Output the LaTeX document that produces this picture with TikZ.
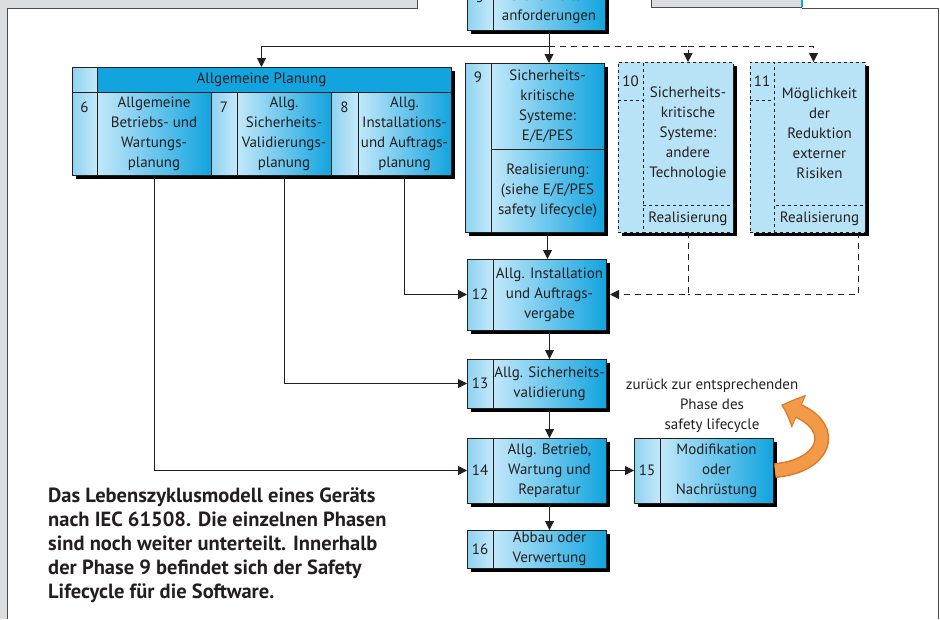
\documentclass[tikz,border=0pt]{standalone}
\usepackage{fontspec}
\setmainfont{PT Sans}
\usetikzlibrary{arrows.meta,shadows,bending}

\definecolor{cyandark}{HTML}{12A4DF}
\definecolor{cyanlight}{HTML}{C2E8FA}
\definecolor{numdark}{HTML}{8ED2F1}
\definecolor{numlight}{HTML}{C4E9FA}
\definecolor{palefill}{HTML}{B8E2F6}
\definecolor{palemid}{HTML}{DDF2FC}
\definecolor{framegray}{HTML}{DCDDDF}
\definecolor{frameline}{HTML}{4D4D4F}
\definecolor{arroworange}{HTML}{F39A48}
\definecolor{orangeedge}{HTML}{DB7A26}
\definecolor{inkblack}{HTML}{231F20}

\newcommand{\boxfont}{\fontsize{15}{20}\selectfont}
\newcommand{\captionfont}{\fontsize{20.5}{24}\selectfont\bfseries}

\tikzset{
  cell/.style={draw=inkblack, line width=1pt, anchor=north west, inner sep=0pt,
    outer sep=0pt, align=center, font=\boxfont, text=inkblack},
  numcell/.style={cell, left color=numdark, right color=numlight},
  txtcell/.style={cell, left color=cyanlight, right color=cyandark},
  palecell/.style={cell, dashed, left color=palefill, middle color=palemid, right color=palefill},
  boxshadow/.style={drop shadow={shadow xshift=4pt, shadow yshift=-4pt, opacity=1, fill=black}},
  dashline/.style={draw=inkblack, line width=1pt, dash pattern=on 6pt off 5pt},
  flow/.style={draw=inkblack, line width=1pt, -{Triangle[length=9pt,width=9pt]}},
  flowdash/.style={flow, dash pattern=on 6pt off 5pt},
}

\begin{document}
\begin{tikzpicture}[x=1pt,y=-1pt]
\useasboundingbox (0,0) rectangle (940,619);
\clip (0,0) rectangle (940,619);

% page frame
\fill[framegray] (0,0) rectangle (417,8);
\fill[framegray] (0,0) rectangle (7,619);
\fill[framegray] (651,0) rectangle (802,7);
\draw[frameline, line width=1pt] (417,0) -- (417,8) -- (7,8) -- (7,619);
\draw[frameline, line width=1pt] (651,0) -- (651,7) -- (802,7);
\draw[cyandark, line width=1.5pt] (802,0) -- (802,7);
\draw[frameline, line width=1pt] (802,8) -- (938,8) -- (938,619);

% phase 5
\node[numcell, boxshadow, minimum width=26, minimum height=46,
  label={[font=\boxfont, text=inkblack, anchor=north, inner sep=0pt, yshift=-8pt]north:5}] (n5) at (467,-16) {};
\node[txtcell, boxshadow, minimum width=112, minimum height=46] (b5) at (493,-16) {Sicherheits-\\anforderungen};

% general planning (6, 7, 8)
\node[cell, boxshadow, left color=cyandark, middle color=cyanlight, right color=cyandark,
  minimum width=379, minimum height=25] (plan) at (72,67) {Allgemeine Planung};
\node[numcell, minimum width=25, minimum height=25] (nplan) at (72,67) {};
\node[numcell, boxshadow, minimum width=25, minimum height=83,
  label={[font=\boxfont, text=inkblack, anchor=north, inner sep=0pt, yshift=-10pt]north:6}] (n6) at (72,92) {};
\node[txtcell, boxshadow, minimum width=114, minimum height=83] (b6) at (97,92) {Allgemeine\\Betriebs- und\\Wartungs-\\planung};
\node[numcell, boxshadow, minimum width=26, minimum height=83,
  label={[font=\boxfont, text=inkblack, anchor=north, inner sep=0pt, yshift=-10pt]north:7}] (n7) at (211,92) {};
\node[txtcell, boxshadow, minimum width=94, minimum height=83] (b7) at (237,92) {Allg.\\Sicherheits-\\Validierungs-\\planung};
\node[numcell, boxshadow, minimum width=27, minimum height=83,
  label={[font=\boxfont, text=inkblack, anchor=north, inner sep=0pt, yshift=-10pt]north:8}] (n8) at (331,92) {};
\node[txtcell, boxshadow, minimum width=93, minimum height=83] (b8) at (358,92) {Allg.\\Installations-\\und Auftrags-\\planung};

% phase 9
\node[numcell, boxshadow, minimum width=26, minimum height=169,
  label={[font=\boxfont, text=inkblack, anchor=north, inner sep=0pt, yshift=-9pt]north:9}] (n9) at (465,63) {};
\node[txtcell, boxshadow, minimum width=113, minimum height=86] (b9) at (491,63) {Sicherheits-\\kritische\\Systeme:\\E/E/PES};
\node[txtcell, boxshadow, minimum width=113, minimum height=83] (r9) at (491,149) {Realisierung:\\(siehe E/E/PES\\safety lifecycle)};

% phases 10 and 11 (dashed)
\node[palecell, boxshadow, minimum width=25, minimum height=170] (n10) at (618,62) {};
\node[cell, dashed, minimum width=25, minimum height=38] (t10) at (618,62) {10};
\node[palecell, boxshadow, minimum width=90, minimum height=143] (b10) at (643,62) {Sicherheits-\\kritische\\Systeme:\\andere\\Technologie};
\node[palecell, boxshadow, minimum width=90, minimum height=27] (r10) at (643,205) {Realisierung};

\node[palecell, boxshadow, minimum width=24, minimum height=170] (n11) at (750,62) {};
\node[cell, dashed, minimum width=24, minimum height=38] (t11) at (750,62) {11};
\node[palecell, boxshadow, minimum width=91, minimum height=143] (b11) at (774,62) {Möglichkeit\\der\\Reduktion\\externer\\Risiken};
\node[palecell, boxshadow, minimum width=91, minimum height=27] (r11) at (774,205) {Realisierung};

% phases 12 to 16
\node[numcell, boxshadow, minimum width=26, minimum height=71] (n12) at (467,259) {12};
\node[txtcell, boxshadow, minimum width=113, minimum height=71] (b12) at (493,259) {Allg. Installation\\und Auftrags-\\vergabe};
\node[numcell, boxshadow, minimum width=26, minimum height=49] (n13) at (467,359) {13};
\node[txtcell, boxshadow, minimum width=113, minimum height=49] (b13) at (493,359) {Allg. Sicherheits-\\validierung};
\node[numcell, boxshadow, minimum width=26, minimum height=65] (n14) at (467,438) {14};
\node[txtcell, boxshadow, minimum width=113, minimum height=65] (b14) at (493,438) {Allg. Betrieb,\\Wartung und\\Reparatur};
\node[numcell, boxshadow, minimum width=26, minimum height=65] (n15) at (634,438) {15};
\node[txtcell, boxshadow, minimum width=113, minimum height=65] (b15) at (660,438) {Modifikation\\oder\\Nachrüstung};
\node[numcell, boxshadow, minimum width=26, minimum height=38] (n16) at (467,530) {16};
\node[txtcell, boxshadow, minimum width=113, minimum height=38] (b16) at (493,530) {Abbau oder\\Verwertung};

% connectors
\coordinate (fork) at (b5.south |- 0,46);
\coordinate (fork10) at (b10.north |- fork);
\draw[inkblack, line width=1pt] (b5.south) -- (fork);
\draw[flow] (fork) -| (plan.north);
\draw[flow] (b5.south) -- (b5.south |- b9.north);
\draw[flowdash] (fork) -| (b10.north);
\draw[flowdash] (fork10) -| ([xshift=-6pt]b11.north);
\draw[flowdash] (r10.south) |- ([xshift=4pt]b12.east);
\draw[dashline] ([xshift=-7pt]r11.south east) |- (r10.south |- b12.east);
\draw[flow] (b8.south) |- (n12.west);
\draw[flow] (b7.south) |- (n13.west);
\draw[flow] (b6.south) |- (n14.west);
\draw[flow] (r9.south) -- (r9.south |- b12.north);
\draw[flow] (b12.south) -- (b13.north);
\draw[flow] (b13.south) -- (b14.north);
\draw[flow] (b14.south) -- (b16.north);
\draw[flow] ([xshift=4pt]b14.east) -- (n15.west);

% back to earlier phase
\draw[orangeedge, line width=15pt, -{Triangle[length=20pt,width=34pt,bend]}]
  ([xshift=2pt]b15.east) .. controls (830,466) and (842,420) .. (781,405);
\draw[arroworange, line width=12pt, -{Triangle[length=17pt,width=29pt,bend]}, shorten >=2pt]
  ([xshift=2pt]b15.east) .. controls (830,466) and (842,420) .. (781,405);
\node[font=\boxfont, align=center, text=inkblack] (back) at (712,406)
  {zurück zur entsprechenden\\Phase des\\safety lifecycle};

% caption
\node[anchor=north west, align=left, inner sep=0pt, font=\captionfont, text=inkblack] (caption) at (48,488)
  {Das Lebenszyklusmodell eines Geräts\\nach IEC 61508. Die einzelnen Phasen\\sind noch weiter unterteilt. Innerhalb\\der Phase 9 befindet sich der Safety\\Lifecycle für die Software.};
\end{tikzpicture}
\end{document}
